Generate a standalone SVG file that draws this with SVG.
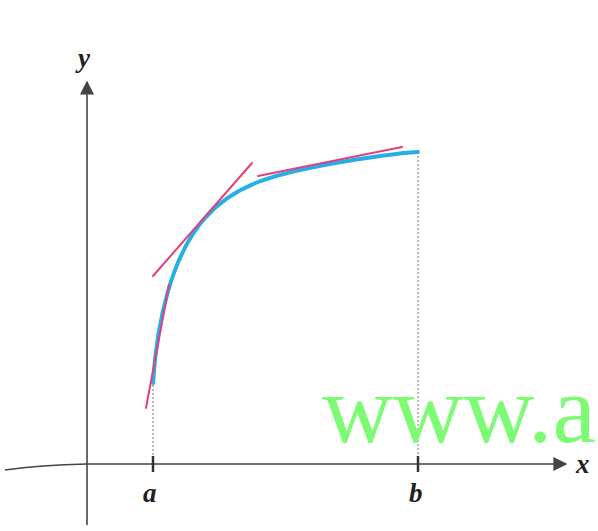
<svg xmlns="http://www.w3.org/2000/svg" width="598" height="531" viewBox="0 0 598 531">
<defs>
<style>
.axis{stroke:#444;stroke-width:1.6;fill:none}
.dot{stroke:#777;stroke-width:1;stroke-dasharray:2,2;fill:none}
.tick{stroke:#333;stroke-width:2.5}
.tan{stroke:#e2407e;stroke-width:2;fill:none;stroke-linecap:round}
.curve{stroke:#26aee6;stroke-width:4;fill:none;stroke-linecap:round}
.lbl{font-family:"Liberation Serif",serif;font-style:italic;font-weight:bold;font-size:27px;fill:#222}
.wm{font-family:"Liberation Serif",serif;font-size:98px;fill:#7dfb74}
</style>
<marker id="ah" viewBox="0 0 10 10" refX="9" refY="5" markerWidth="14" markerHeight="14" markerUnits="userSpaceOnUse" orient="auto"><path d="M0,0 L10,5 L0,10 z" fill="#444"/></marker>
</defs>
<g id="connectors">
<path class="axis" d="M87,525 V82" marker-end="url(#ah)"/>
<path class="axis" d="M5,470 Q40,465 87,464 H566" marker-end="url(#ah)"/>
<path class="dot" d="M153,385 V463"/>
<path class="dot" d="M418,152 V463"/>
<line class="tick" x1="153" y1="456" x2="153" y2="472"/>
<line class="tick" x1="418" y1="456" x2="418" y2="472"/>
</g>
<g id="curve">
<path class="curve" d="M153,383 C157,320 172,255 205,218 C235,184 275,174 330,164 C370,157 400,153 418,152"/>
</g>
<g id="tangents">
<line class="tan" x1="146" y1="408" x2="169" y2="285"/>
<line class="tan" x1="153" y1="276" x2="252" y2="163"/>
<line class="tan" x1="258" y1="176" x2="402" y2="147"/>
</g>
<g id="labels">
<text class="lbl" x="78" y="67">y</text>
<text class="lbl" x="576" y="473">x</text>
<text class="lbl" x="143" y="502">a</text>
<text class="lbl" x="409" y="502">b</text>
</g>
<text class="wm" x="322" y="442">www.a</text>
</svg>
